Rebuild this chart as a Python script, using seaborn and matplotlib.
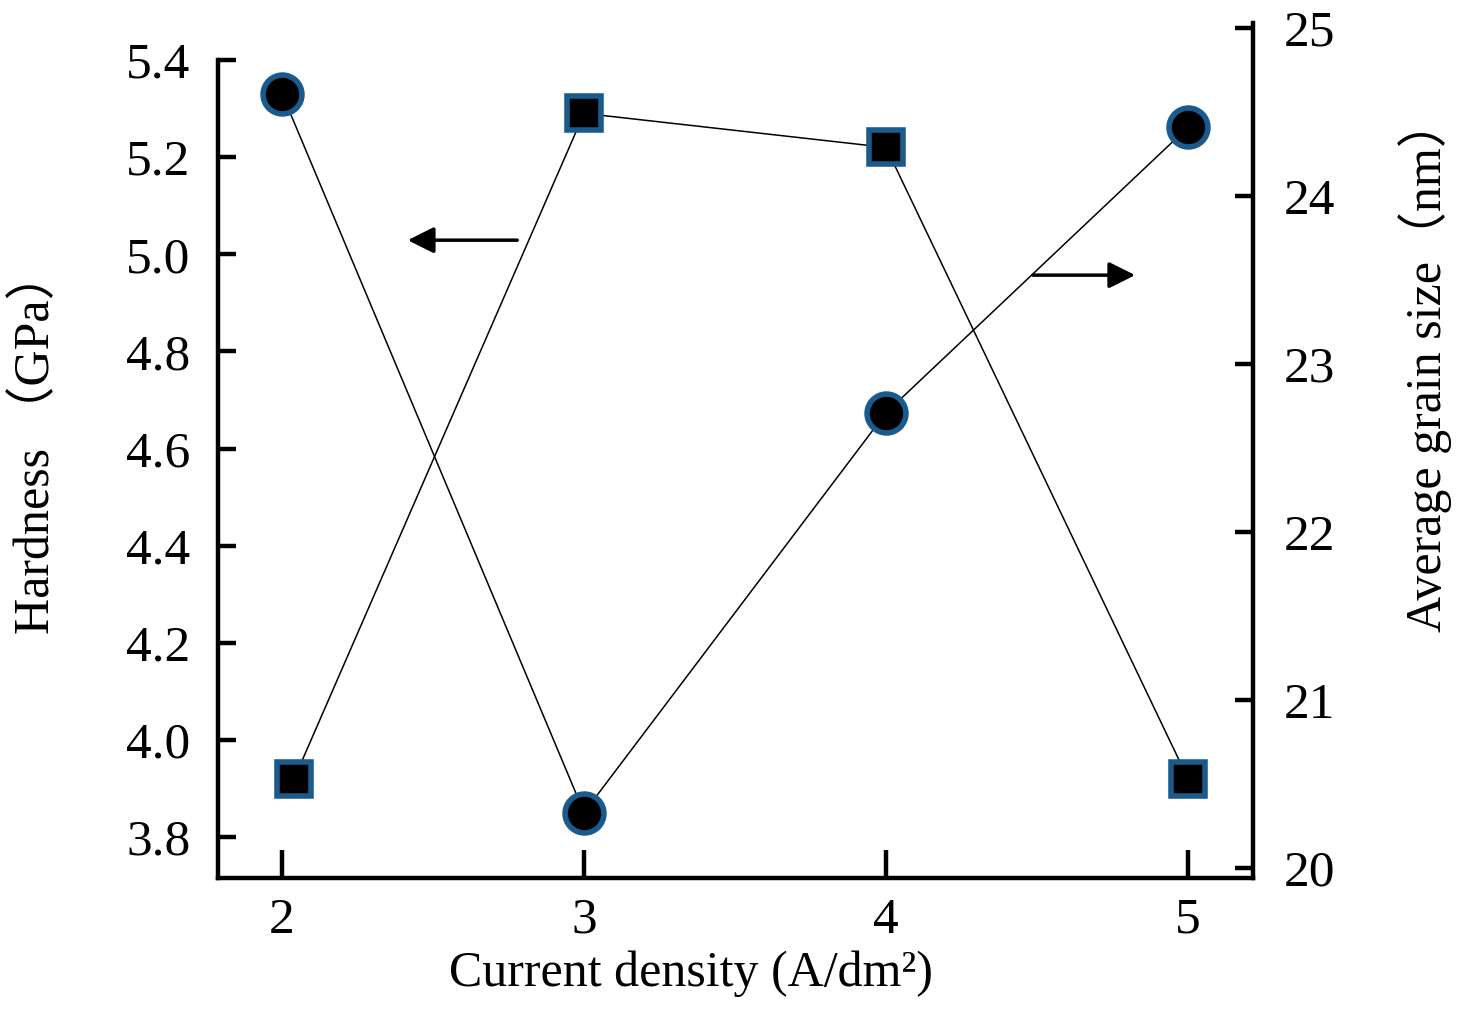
import matplotlib
matplotlib.use("Agg")
import matplotlib.pyplot as plt
import seaborn as sns
import pandas as pd

# values
current_density = [2, 3, 4, 5]
hardness_x = [2.04, 3, 4, 5]
hardness = [3.92, 5.29, 5.22, 3.92]          # GPa, squares, left axis
grain_size = [24.61, 20.33, 22.71, 24.41]    # nm, circles, right axis

left_ticks = [3.8, 4.0, 4.2, 4.4, 4.6, 4.8, 5.0, 5.2, 5.4]
right_ticks = [20, 21, 22, 23, 24, 25]

sns.set_style("ticks")
plt.rcParams['font.family'] = ['Liberation Serif', 'Noto Sans CJK SC', 'DejaVu Sans']
plt.rcParams['text.color'] = 'black'
plt.rcParams['xtick.color'] = 'black'
plt.rcParams['ytick.color'] = 'black'
plt.rcParams['axes.labelcolor'] = 'black'

edge = '#1b5a8c'
fs_tick = 37
fs_lab = 36

fig = plt.figure(figsize=(14.7, 10.28), dpi=100)
ax = fig.add_axes([0.1483, 0.1459, 0.7041, 0.8317])
ax2 = ax.twinx()

df_h = pd.DataFrame({'x': hardness_x, 'y': hardness})
df_g = pd.DataFrame({'x': current_density, 'y': grain_size})

sns.lineplot(data=df_h, x='x', y='y', ax=ax, color='black', lw=1.1,
             marker='s', markersize=25, markerfacecolor='black',
             markeredgecolor=edge, markeredgewidth=4)
sns.lineplot(data=df_g, x='x', y='y', ax=ax2, color='black', lw=1.1,
             marker='o', markersize=28, markerfacecolor='black',
             markeredgecolor=edge, markeredgewidth=4)

ax.set_xlim(1.788, 5.215)
ax.set_ylim(3.716, 5.476)
ax2.set_ylim(19.94, 25.03)

ax.set_xticks(current_density)
ax.set_yticks(left_ticks)
ax.set_yticklabels([f"{v:.1f}" for v in left_ticks])
ax2.set_yticks(right_ticks)

for a in (ax, ax2):
    a.spines['top'].set_visible(False)
    for s in a.spines.values():
        s.set_linewidth(3.2)
        s.set_color('black')
ax.spines['right'].set_visible(False)
ax2.spines['left'].set_visible(False)
ax2.spines['bottom'].set_visible(False)
ax.spines['left'].set_bounds(3.716, 5.4)

ax.tick_params(axis='y', direction='in', length=13, width=3.2, labelsize=fs_tick, pad=20)
ax.tick_params(axis='x', direction='in', length=20, width=3.2, labelsize=fs_tick, pad=14)
ax2.tick_params(axis='y', direction='in', length=13, width=3.2, labelsize=fs_tick, pad=22)

ax.set_xlabel("Current density (A/dm²)", fontsize=fs_lab)
ax.xaxis.set_label_coords(0.457, -0.085)
ax.set_ylabel("Hardness （GPa）", fontsize=fs_lab)
ax.yaxis.set_label_coords(-0.152, 0.51)
ax2.set_ylabel("Average grain size（nm）", fontsize=fs_lab, rotation=90)
ax2.yaxis.set_label_coords(1.14, 0.6)

arrow = dict(arrowstyle='-|>', color='black', lw=2.5, mutation_scale=40)
ax.annotate('', xy=(2.407, 5.029), xytext=(2.788, 5.029), arrowprops=arrow)
ax.annotate('', xy=(4.834, 4.957), xytext=(4.477, 4.957), arrowprops=arrow)

fig.savefig("out.png", dpi=100)
